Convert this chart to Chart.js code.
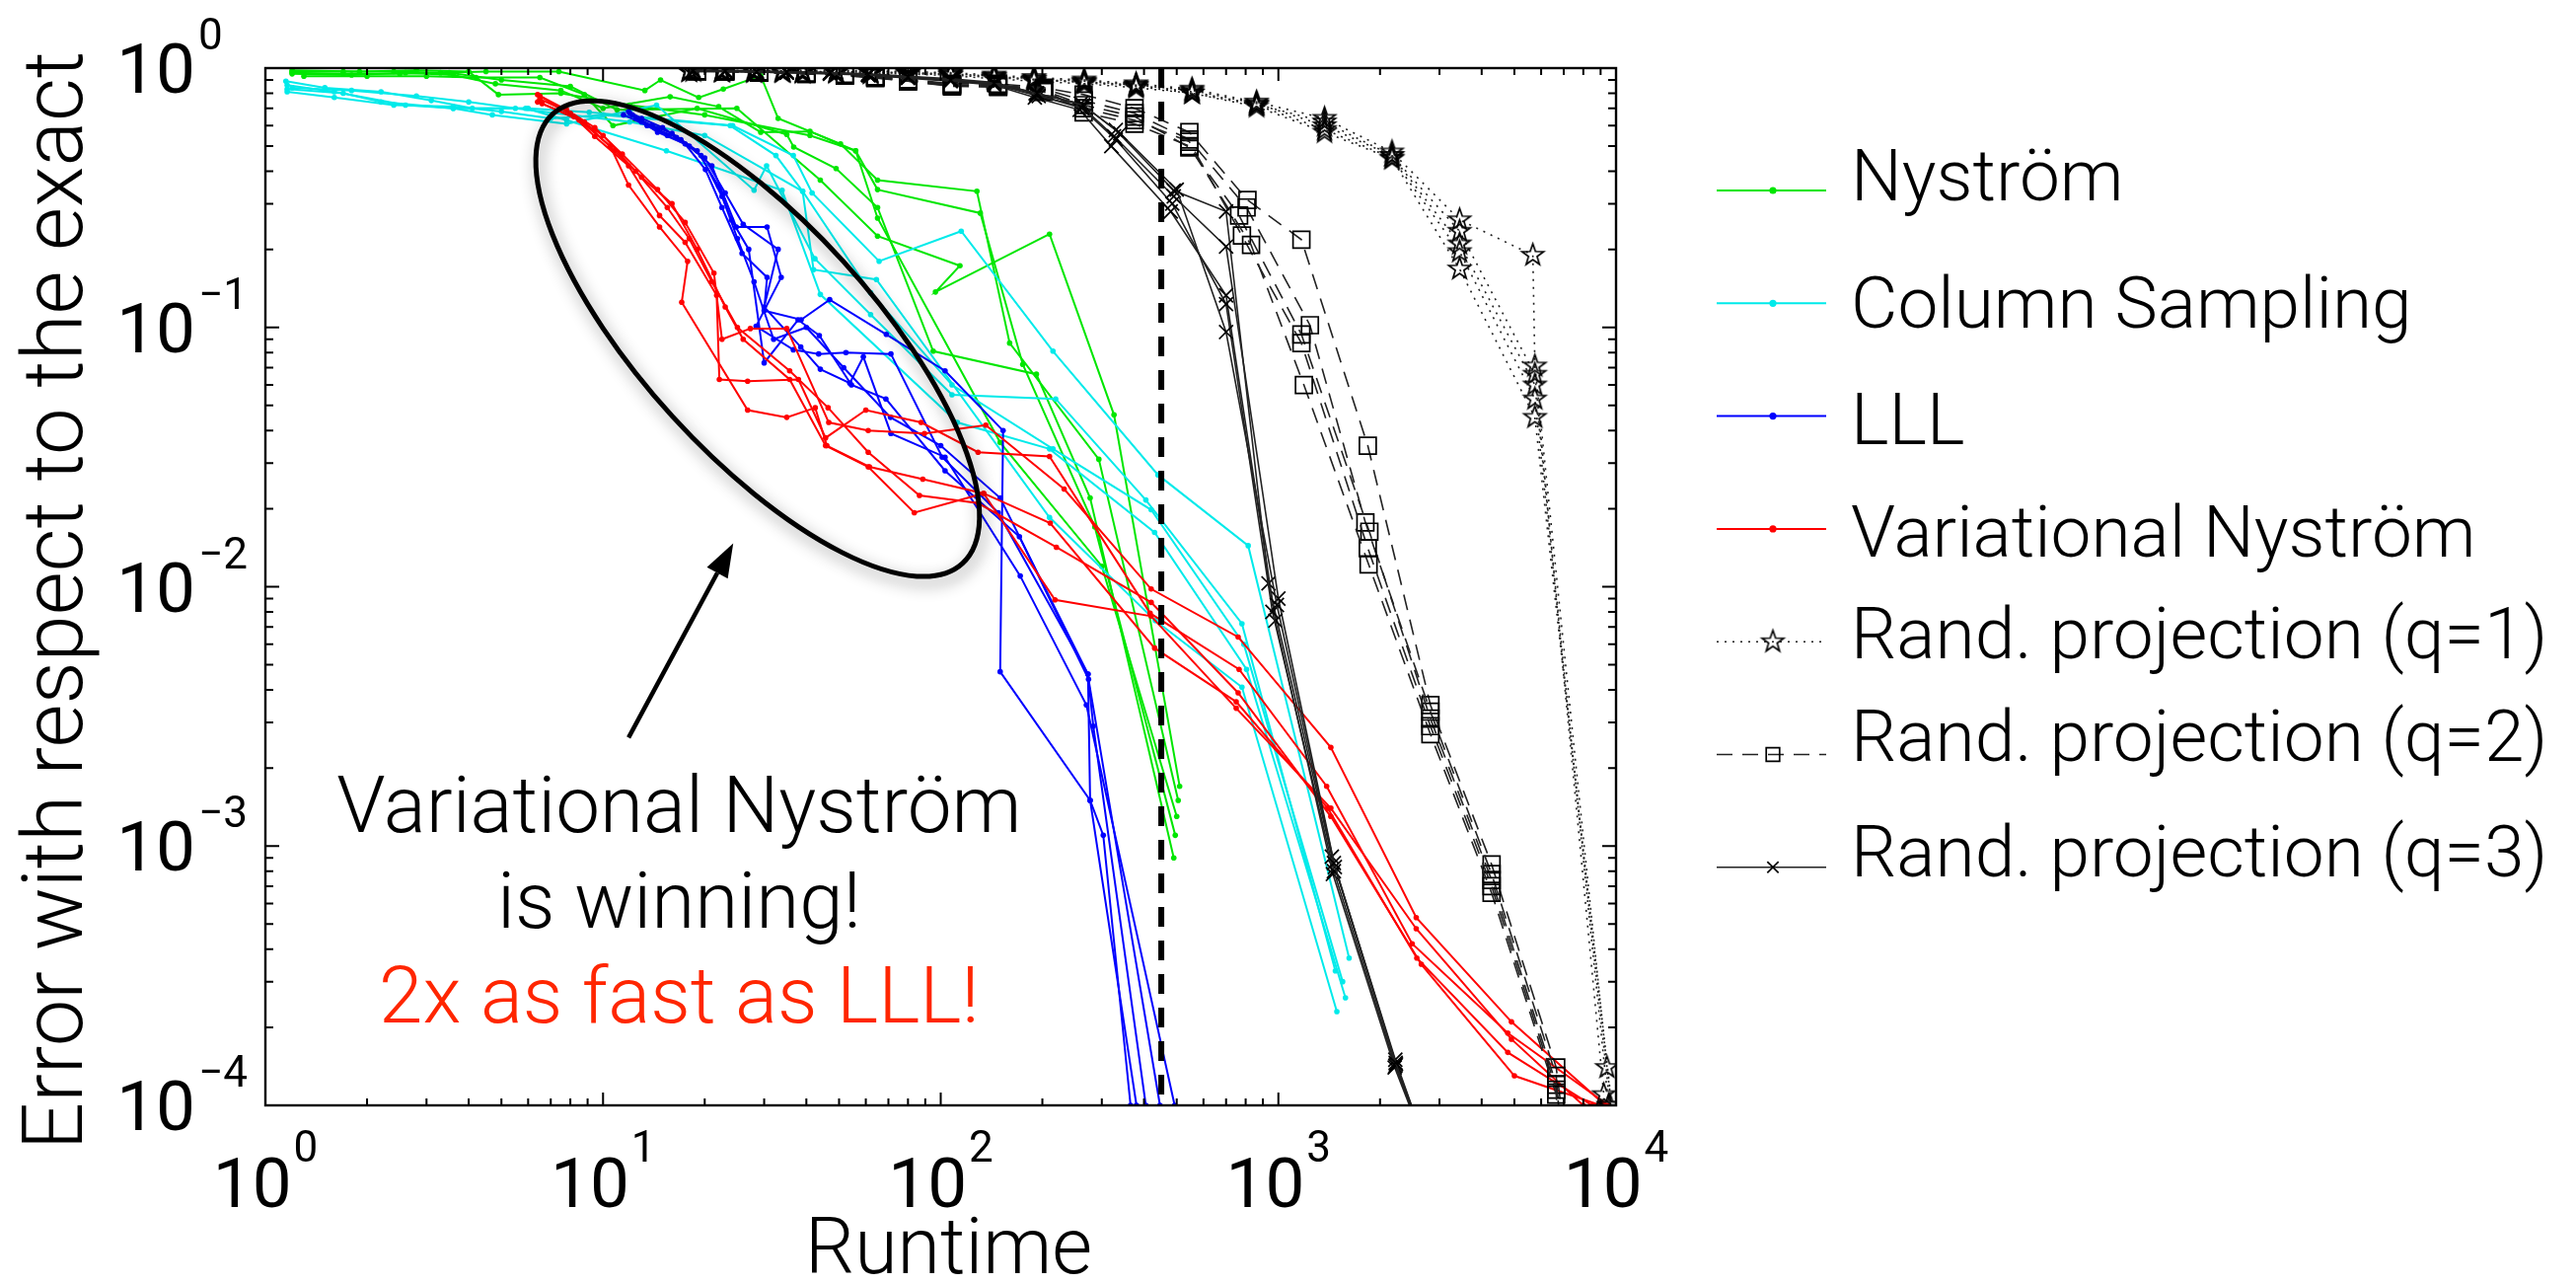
<!DOCTYPE html>
<html>
<head>
<meta charset="utf-8">
<script src="https://cdn.jsdelivr.net/npm/chart.js@4.4.0/dist/chart.umd.min.js"></script>
<style>
  html, body { margin: 0; padding: 0; background: #fff; }
</style>
</head>
<body>
<canvas id="graph" width="2611" height="1301"></canvas>
<script>
// ---- data: [runtime, error] ----
var nystromRuns = [
  [[1.2,0.97],[1.7,0.97],[2.4,0.97],[3.3,0.96],[4.5,0.97],[7.4,0.97],[13.3,0.82],[14.8,0.90],[19.2,0.77],[22.7,0.83],[29.3,0.935],[33,0.64],[50.5,0.51],[65,0.37],[128,0.335],[160,0.087],[294,0.031],[505,0.0015]],
  [[1.2,0.95],[1.8,0.94],[2.6,0.96],[3.6,0.94],[4.8,0.87],[7.5,0.82],[10,0.70],[15.8,0.775],[22,0.71],[29.3,0.566],[41,0.57],[56,0.48],[65,0.34],[131,0.276],[175,0.072],[286,0.017],[495,0.0011]],
  [[1.3,0.93],[2,0.93],[3,0.93],[4.2,0.92],[6.5,0.92],[8.8,0.79],[10.7,0.60],[19,0.70],[35,0.555],[36.7,0.496],[49,0.41],[65,0.29],[95,0.081],[192,0.066],[277,0.022],[490,0.0009]],
  [[1.2,0.96],[1.7,0.95],[2.5,0.95],[3.5,0.96],[5,0.90],[8,0.85],[11,0.69],[24.9,0.70],[44,0.37],[65,0.225],[114,0.173],[96.5,0.137],[210,0.229],[326,0.046],[510,0.0017]],
  [[1.2,0.98],[1.9,0.97],[2.8,0.98],[4,0.97],[4.9,0.79],[7.5,0.80],[12,0.72],[20,0.66],[41,0.55],[56,0.48],[65,0.264],[150,0.036],[300,0.012],[500,0.0013]]
];
var columnRuns = [
  [[1.15,0.89],[1.5,0.84],[2.2,0.81],[3.1,0.75],[4.1,0.70],[6,0.70],[9.1,0.675],[24.2,0.60],[36.6,0.46],[41.6,0.33],[65.7,0.18],[115,0.235],[215,0.081],[440,0.027],[814,0.0144],[1620,0.00037]],
  [[1.16,0.86],[1.6,0.81],[2.6,0.72],[3.6,0.70],[4.7,0.66],[7.8,0.61],[14.4,0.72],[28,0.338],[30.5,0.42],[42.4,0.184],[62,0.112],[108,0.055],[219,0.053],[405,0.0216],[780,0.0072],[1475,0.00033]],
  [[1.16,0.83],[1.7,0.80],[2.2,0.74],[3.6,0.70],[5.9,0.70],[7.8,0.63],[15.4,0.48],[33.9,0.338],[44,0.134],[112,0.043],[210,0.034],[430,0.0162],[805,0.0048],[1580,0.00026]],
  [[1.16,0.81],[1.6,0.77],[2.4,0.72],[3.6,0.71],[5,0.68],[7,0.64],[10,0.66],[23.8,0.60],[32.5,0.46],[39,0.335],[42,0.167],[64.5,0.153],[210,0.0185],[432,0.0074],[780,0.0041],[1490,0.00023]],
  [[1.2,0.84],[1.8,0.82],[2.8,0.78],[4,0.74],[5.5,0.70],[8,0.66],[12,0.62],[20,0.55],[39,0.335],[62,0.136],[108,0.06],[215,0.034],[420,0.0198],[790,0.006],[1550,0.0003]]
];
var lllRuns = [
  [[12,0.67],[13,0.62],[14.5,0.566],[17.5,0.51],[20.1,0.406],[22.5,0.29],[25.8,0.193],[30.6,0.156],[30,0.116],[38.6,0.107],[46.9,0.128],[69,0.094],[103,0.068],[153,0.04],[150,0.0047],[277,0.0015],[303,0.0011],[365,0.0001]],
  [[11.5,0.66],[13.5,0.60],[15.5,0.55],[18,0.50],[21,0.42],[24.8,0.244],[30.6,0.244],[33.7,0.156],[28.4,0.101],[36.6,0.082],[43.5,0.079],[52.4,0.08],[71.2,0.079],[101,0.0316],[148,0.0193],[273,0.0046],[283,0.0029],[405,0.0001]],
  [[12.5,0.64],[14,0.60],[16,0.56],[19,0.48],[22,0.35],[24,0.26],[27,0.20],[30,0.073],[37.8,0.107],[43.7,0.093],[54.4,0.06],[68.8,0.053],[103,0.028],[171,0.0156],[274,0.0044],[446,0.0001]],
  [[11.9,0.68],[13,0.64],[15,0.59],[17,0.53],[20,0.45],[23,0.33],[26,0.25],[33,0.20],[30,0.12],[38.5,0.084],[44,0.069],[53.8,0.061],[59,0.077],[71.2,0.039],[103,0.0316],[172,0.011],[270,0.0035],[493,0.0001]],
  [[12.2,0.66],[14.5,0.58],[16.5,0.54],[19.5,0.46],[22.5,0.32],[25,0.22],[28,0.15],[32,0.09],[40,0.10],[51.6,0.07],[71,0.045],[100,0.035],[150,0.022],[273,0.0046],[277,0.0015],[380,0.0001]]
];
var varNystromRuns = [
  [[6.4,0.79],[7.8,0.69],[9.45,0.59],[11.4,0.466],[14.5,0.34],[17.5,0.254],[21.3,0.162],[22.5,0.09],[27.3,0.099],[35,0.099],[46.6,0.043],[61,0.04],[89.5,0.039],[136,0.042],[232,0.0238],[420,0.0098],[760,0.0064],[1430,0.0024],[2560,0.00053],[4900,0.00021],[9300,0.0001]],
  [[6.5,0.76],[8,0.67],[9.45,0.545],[11.9,0.42],[14.7,0.27],[17.5,0.213],[21.7,0.133],[22.1,0.063],[26.8,0.062],[37.9,0.063],[45.6,0.0375],[60,0.048],[87.5,0.043],[129,0.033],[210,0.0318],[417,0.0079],[765,0.0048],[1390,0.0017],[2490,0.00042],[4780,0.00019],[9500,0.0001]],
  [[6.6,0.73],[8.5,0.63],[10.5,0.50],[11.9,0.354],[14.7,0.244],[17.8,0.18],[17.1,0.125],[26.8,0.048],[35,0.045],[42.5,0.049],[46,0.035],[61.5,0.029],[88.5,0.026],[134,0.0229],[211,0.0176],[430,0.0058],[750,0.0036],[1400,0.0014],[2570,0.00037],[4780,0.00016],[8500,0.0001]],
  [[6.4,0.74],[8.2,0.65],[10,0.55],[12.5,0.40],[15.5,0.29],[18,0.22],[21,0.15],[25,0.10],[35.7,0.068],[46.4,0.049],[61,0.033],[86.5,0.0225],[129,0.021],[220,0.0142],[420,0.0087],[760,0.0039],[1430,0.0013],[2650,0.00035],[5000,0.00013],[9000,0.0001]],
  [[6.5,0.78],[8.8,0.62],[10.8,0.48],[13,0.38],[16,0.30],[19,0.20],[23,0.12],[26,0.09],[35.7,0.063],[45.6,0.035],[61,0.029],[83.5,0.0193],[134,0.0229],[218,0.0089],[420,0.0077],[750,0.0034],[1430,0.0014],[2560,0.00048],[4900,0.00018],[8000,0.0001]]
];
var randProj1Runs = [
  [[18,0.98],[22.5,0.98],[28,0.98],[34,0.98],[39,0.98],[49,0.98],[62,0.975],[80,0.97],[107,0.96],[144,0.94],[189,0.92],[266,0.90],[379,0.87],[555,0.83],[862,0.74],[1370,0.64],[2170,0.475],[3440,0.26],[5670,0.19],[5750,0.071],[9400,0.00014],[9900,0.00008]],
  [[18,0.98],[22.5,0.975],[28,0.975],[34,0.97],[39,0.97],[49,0.97],[62,0.97],[80,0.96],[107,0.95],[144,0.93],[189,0.91],[266,0.89],[379,0.86],[555,0.82],[862,0.73],[1370,0.60],[2170,0.46],[3440,0.235],[5750,0.066],[9200,0.00011],[9600,0.00007]],
  [[18.5,0.975],[22.5,0.97],[28,0.97],[34,0.97],[39,0.965],[49,0.965],[62,0.96],[80,0.955],[107,0.94],[144,0.92],[189,0.90],[266,0.88],[379,0.85],[555,0.80],[862,0.72],[1370,0.58],[2170,0.45],[3440,0.196],[5750,0.053],[9600,0.0001]],
  [[18,0.97],[22.5,0.97],[28,0.965],[34,0.965],[39,0.96],[49,0.96],[62,0.955],[80,0.95],[107,0.935],[144,0.91],[189,0.89],[266,0.87],[379,0.84],[555,0.80],[862,0.71],[1370,0.566],[2170,0.447],[3440,0.168],[5750,0.045],[9800,0.00009]],
  [[18.5,0.98],[22.5,0.98],[28,0.975],[34,0.975],[39,0.97],[49,0.97],[62,0.965],[80,0.96],[107,0.95],[144,0.93],[189,0.905],[266,0.885],[379,0.86],[555,0.81],[862,0.725],[1370,0.62],[2170,0.46],[3440,0.21],[5750,0.06],[9500,0.0001]]
];
var randProj2Runs = [
  [[19,0.98],[23,0.98],[29,0.97],[40,0.96],[52,0.95],[64,0.93],[80,0.905],[108,0.87],[148,0.87],[202,0.84],[265,0.79],[375,0.70],[545,0.566],[810,0.31],[1170,0.218],[1840,0.035],[2820,0.0035],[4280,0.00085],[6650,0.00014],[7100,0.00007]],
  [[19,0.975],[23,0.975],[29,0.97],[40,0.955],[52,0.94],[64,0.92],[80,0.90],[108,0.86],[148,0.86],[202,0.83],[265,0.75],[375,0.67],[545,0.53],[805,0.29],[1240,0.102],[1810,0.0177],[2820,0.0033],[4280,0.00078],[6650,0.00013],[6900,0.00007]],
  [[19,0.97],[23,0.97],[29,0.965],[40,0.95],[52,0.94],[64,0.92],[80,0.89],[108,0.855],[148,0.85],[202,0.82],[265,0.72],[375,0.65],[545,0.494],[765,0.27],[1170,0.094],[1860,0.0163],[2820,0.0031],[4280,0.00074],[6650,0.00012],[7000,0.00007]],
  [[19,0.975],[23,0.97],[29,0.96],[40,0.95],[52,0.935],[64,0.915],[80,0.89],[108,0.85],[148,0.845],[202,0.81],[265,0.70],[375,0.63],[545,0.52],[780,0.226],[1170,0.087],[1840,0.0141],[2820,0.0029],[4280,0.0007],[6650,0.000115],[7200,0.00007]],
  [[19,0.98],[23,0.975],[29,0.965],[40,0.955],[52,0.945],[64,0.925],[80,0.90],[108,0.86],[148,0.855],[202,0.825],[265,0.675],[375,0.61],[545,0.50],[830,0.208],[1190,0.06],[1850,0.0122],[2820,0.0027],[4280,0.00066],[6650,0.00011],[6800,0.00007]]
];
var randProj3Runs = [
  [[18.5,0.98],[23,0.98],[28.5,0.975],[35,0.97],[47,0.96],[61,0.95],[80,0.93],[107,0.91],[144,0.88],[191,0.80],[260,0.73],[330,0.577],[490,0.337],[700,0.28],[935,0.0103],[1440,0.00091],[2220,0.00015],[2850,0.00006]],
  [[18.5,0.975],[23,0.975],[28.5,0.97],[35,0.965],[47,0.955],[61,0.945],[80,0.92],[107,0.90],[144,0.87],[195,0.78],[262,0.71],[326,0.546],[490,0.32],[700,0.205],[1000,0.009],[1470,0.00083],[2230,0.000144],[2850,0.00006]],
  [[18.5,0.97],[23,0.97],[28.5,0.965],[35,0.96],[47,0.95],[61,0.94],[80,0.915],[107,0.89],[144,0.86],[190,0.77],[258,0.69],[320,0.50],[480,0.28],[700,0.133],[980,0.0074],[1450,0.00078],[2210,0.00014],[2850,0.00006]],
  [[18.5,0.975],[23,0.97],[28.5,0.965],[35,0.96],[47,0.955],[61,0.94],[80,0.92],[107,0.895],[144,0.865],[192,0.79],[262,0.70],[330,0.53],[485,0.30],[700,0.123],[960,0.008],[1460,0.0008],[2220,0.000142],[2850,0.00006]],
  [[18.5,0.98],[23,0.975],[28.5,0.97],[35,0.965],[47,0.96],[61,0.945],[80,0.925],[107,0.90],[144,0.875],[193,0.80],[264,0.72],[340,0.56],[500,0.34],[700,0.096],[990,0.0085],[1460,0.00086],[2225,0.000146],[2850,0.00006]]
];
var cutoffRuntime = 450;

var legendLabels = ["Nyström", "Column Sampling", "LLL", "Variational Nyström",
  "Rand. projection (q=1)", "Rand. projection (q=2)", "Rand. projection (q=3)"];
var xTickValues = [1, 10, 100, 1000, 10000];
var xTickExps = ["0", "1", "2", "3", "4"];
var yTickValues = [1, 0.1, 0.01, 0.001, 0.0001];
var yTickExps = ["0", "\u22121", "\u22122", "\u22123", "\u22124"];
var xTitle = "Runtime";
var yTitle = "Error with respect to the exact";
var noteLines = ["Variational Nyström", "is winning!", "2x as fast as LLL!"];
// annotation anchors in data units
var noteX = 16.8;
var noteY = [0.00113, 0.000484, 0.000209];
var arrowFrom = [11.9, 0.00262];
var arrowTo = [24.3, 0.0147];
var ellipseEnds = [[7.1, 0.666], [116, 0.0123]];
var ellipseMinorDecades = 0.445;

var FONT = '"Helvetica Neue", Roboto, "Liberation Sans", sans-serif';

// hollow pentagram marker
function makeStar(r, lw) {
  var c = document.createElement("canvas");
  var s = Math.ceil(2 * r + 2 * lw + 2);
  c.width = s; c.height = s;
  var g = c.getContext("2d");
  g.beginPath();
  for (var i = 0; i < 10; i++) {
    var rr = i % 2 ? r * 0.4 : r;
    var a = -Math.PI / 2 + i * Math.PI / 5;
    var px = s / 2 + rr * Math.cos(a), py = s / 2 + rr * Math.sin(a);
    if (i) g.lineTo(px, py); else g.moveTo(px, py);
  }
  g.closePath();
  g.lineWidth = lw;
  g.strokeStyle = "#000";
  g.stroke();
  return c;
}
var starImg = makeStar(11.5, 1.7);

var seriesStyles = [
  { borderColor: "#00e600", borderWidth: 2, pointStyle: "circle", pointRadius: 2.8, pointBackgroundColor: "#00e600", pointBorderColor: "#00e600", pointBorderWidth: 0, borderDash: [] },
  { borderColor: "#00eaea", borderWidth: 2, pointStyle: "circle", pointRadius: 2.8, pointBackgroundColor: "#00eaea", pointBorderColor: "#00eaea", pointBorderWidth: 0, borderDash: [] },
  { borderColor: "#0000ff", borderWidth: 2, pointStyle: "circle", pointRadius: 2.8, pointBackgroundColor: "#0000ff", pointBorderColor: "#0000ff", pointBorderWidth: 0, borderDash: [] },
  { borderColor: "#ff0000", borderWidth: 2, pointStyle: "circle", pointRadius: 2.8, pointBackgroundColor: "#ff0000", pointBorderColor: "#ff0000", pointBorderWidth: 0, borderDash: [] },
  { borderColor: "#222", borderWidth: 1.6, pointStyle: starImg, pointRadius: 11.5, pointBackgroundColor: "rgba(0,0,0,0)", pointBorderColor: "#000", pointBorderWidth: 1.7, borderDash: [2, 6] },
  { borderColor: "#222", borderWidth: 1.6, pointStyle: "rect", pointRadius: 12, pointBackgroundColor: "rgba(0,0,0,0)", pointBorderColor: "#000", pointBorderWidth: 1.7, borderDash: [16, 10] },
  { borderColor: "#222", borderWidth: 1.6, pointStyle: "crossRot", pointRadius: 10, pointBackgroundColor: "rgba(0,0,0,0)", pointBorderColor: "#000", pointBorderWidth: 1.7, borderDash: [] }
];
var allRuns = [nystromRuns, columnRuns, lllRuns, varNystromRuns, randProj1Runs, randProj2Runs, randProj3Runs];

var datasets = [];
allRuns.forEach(function (runs, si) {
  runs.forEach(function (run) {
    var st = seriesStyles[si];
    datasets.push({
      data: run.map(function (p) { return { x: p[0], y: p[1] }; }),
      showLine: true,
      fill: false,
      borderColor: st.borderColor,
      borderWidth: st.borderWidth,
      borderDash: st.borderDash,
      pointStyle: st.pointStyle,
      pointRadius: st.pointRadius,
      pointBackgroundColor: st.pointBackgroundColor,
      pointBorderColor: st.pointBorderColor,
      pointBorderWidth: st.pointBorderWidth,
      order: -datasets.length
    });
  });
});
// vertical dashed cutoff
datasets.push({
  data: [{ x: cutoffRuntime, y: 1 }, { x: cutoffRuntime, y: 0.0001 }],
  showLine: true, fill: false,
  borderColor: "#000", borderWidth: 6, borderDash: [20, 14],
  pointRadius: 0, order: -1000
});

// per-row vertical offset of the legend text baseline from its sample line
var LEGEND_TEXT_DY = [10, 25, 28, 28, 17, 6, 9];

function decorations() {
  return {
    id: "decorations",
    afterDraw: function (chart) {
      var ctx = chart.ctx, a = chart.chartArea;
      var xs = chart.scales.x, ys = chart.scales.y;
      ctx.save();

      // ellipse with shadow
      var p1 = [xs.getPixelForValue(ellipseEnds[0][0]), ys.getPixelForValue(ellipseEnds[0][1])];
      var p2 = [xs.getPixelForValue(ellipseEnds[1][0]), ys.getPixelForValue(ellipseEnds[1][1])];
      var dec = ys.getPixelForValue(0.1) - ys.getPixelForValue(1);
      var cx = (p1[0] + p2[0]) / 2, cy = (p1[1] + p2[1]) / 2;
      var semiA = Math.hypot(p2[0] - p1[0], p2[1] - p1[1]) / 2;
      var ang = Math.atan2(p2[1] - p1[1], p2[0] - p1[0]);
      ctx.save();
      ctx.shadowColor = "rgba(0,0,0,0.45)";
      ctx.shadowBlur = 16;
      ctx.shadowOffsetX = 3;
      ctx.shadowOffsetY = 6;
      ctx.beginPath();
      ctx.ellipse(cx, cy, semiA, ellipseMinorDecades * dec, ang, 0, Math.PI * 2);
      ctx.lineWidth = 5;
      ctx.strokeStyle = "#000";
      ctx.stroke();
      ctx.restore();

      // arrow
      var t0 = [xs.getPixelForValue(arrowFrom[0]), ys.getPixelForValue(arrowFrom[1])];
      var t1 = [xs.getPixelForValue(arrowTo[0]), ys.getPixelForValue(arrowTo[1])];
      var aa = Math.atan2(t1[1] - t0[1], t1[0] - t0[0]);
      var hl = 34, hw = 12;
      var bx = t1[0] - hl * Math.cos(aa), by = t1[1] - hl * Math.sin(aa);
      ctx.beginPath();
      ctx.moveTo(t0[0], t0[1]);
      ctx.lineTo(bx, by);
      ctx.lineWidth = 4.5;
      ctx.strokeStyle = "#000";
      ctx.stroke();
      ctx.beginPath();
      ctx.moveTo(t1[0], t1[1]);
      ctx.lineTo(bx + hw * Math.sin(aa), by - hw * Math.cos(aa));
      ctx.lineTo(bx - hw * Math.sin(aa), by + hw * Math.cos(aa));
      ctx.closePath();
      ctx.fillStyle = "#000";
      ctx.fill();

      // note text
      ctx.font = "300 80px " + FONT;
      ctx.textAlign = "center";
      ctx.textBaseline = "alphabetic";
      var nx = xs.getPixelForValue(noteX);
      noteLines.forEach(function (s, i) {
        ctx.fillStyle = i === 2 ? "#ff2600" : "#000";
        ctx.fillText(s, nx, ys.getPixelForValue(noteY[i]));
      });

      // box
      ctx.lineWidth = 2.4;
      ctx.strokeStyle = "#000";
      ctx.setLineDash([]);
      ctx.strokeRect(a.left, a.top, a.right - a.left, a.bottom - a.top);

      // inward ticks on all four sides
      ctx.lineWidth = 2;
      ctx.beginPath();
      for (var d = 1; d <= 10000; d *= 10) {
        for (var m = 1; m < 10; m++) {
          var v = d * m;
          if (v > 10000) break;
          var px = xs.getPixelForValue(v);
          var len = m === 1 ? 13 : 7;
          ctx.moveTo(px, a.bottom); ctx.lineTo(px, a.bottom - len);
          ctx.moveTo(px, a.top); ctx.lineTo(px, a.top + len);
        }
      }
      for (var e = 0.0001; e <= 1.0001; e *= 10) {
        for (var k = 1; k < 10; k++) {
          var w = e * k;
          if (w > 1.0001) break;
          var py = ys.getPixelForValue(w);
          var ln = k === 1 ? 14 : 8;
          ctx.moveTo(a.left, py); ctx.lineTo(a.left + ln, py);
          ctx.moveTo(a.right, py); ctx.lineTo(a.right - ln, py);
        }
      }
      ctx.stroke();

      // tick labels with superscript exponents
      var baseFont = "400 71px " + FONT, expFont = "400 44px " + FONT;
      ctx.fillStyle = "#000";
      xTickValues.forEach(function (v, i) {
        ctx.font = baseFont;
        var w1 = ctx.measureText("10").width;
        ctx.font = expFont;
        var w2 = ctx.measureText(xTickExps[i]).width;
        var left = xs.getPixelForValue(v) - (w1 + 2 + w2) / 2;
        ctx.textAlign = "left";
        ctx.font = baseFont;
        ctx.fillText("10", left, a.bottom + 103);
        ctx.font = expFont;
        ctx.fillText(xTickExps[i], left + w1 + 2, a.bottom + 57);
      });
      yTickValues.forEach(function (v, i) {
        var py = ys.getPixelForValue(v);
        ctx.font = baseFont;
        ctx.textAlign = "right";
        ctx.fillText("10", a.left - 71, py + 25);
        ctx.font = expFont;
        ctx.textAlign = "left";
        ctx.fillText(yTickExps[i], a.left - 68, py - 19);
      });

      // axis titles
      ctx.font = "300 79px " + FONT;
      ctx.textAlign = "center";
      ctx.fillText(xTitle, (a.left + a.right) / 2 + 8, a.bottom + 170);
      ctx.save();
      ctx.translate(a.left - 186, (a.top + a.bottom) / 2 + 14);
      ctx.rotate(-Math.PI / 2);
      ctx.font = "300 85px " + FONT;
      ctx.fillText(yTitle, 0, 0);
      ctx.restore();

      // legend
      var lx0 = a.right + 102, lx1 = a.right + 213, lm = a.right + 159, lt = a.right + 238;
      legendLabels.forEach(function (label, i) {
        var st = seriesStyles[i];
        var ry = a.top + 124 + i * 114.3;
        ctx.setLineDash(st.borderDash);
        ctx.lineWidth = st.borderWidth;
        ctx.strokeStyle = st.borderColor;
        ctx.beginPath();
        ctx.moveTo(lx0, ry); ctx.lineTo(lx1, ry);
        ctx.stroke();
        ctx.setLineDash([]);
        ctx.fillStyle = st.pointBackgroundColor;
        ctx.strokeStyle = st.pointBorderColor;
        ctx.lineWidth = st.pointBorderWidth;
        Chart.helpers.drawPoint(ctx, { pointStyle: st.pointStyle, radius: i < 4 ? 3.6 : st.pointRadius * 0.8, rotation: 0, borderWidth: st.pointBorderWidth }, lm, ry);
        ctx.fillStyle = "#000";
        ctx.font = "300 73px " + FONT;
        ctx.textAlign = "left";
        ctx.fillText(label, lt, ry + LEGEND_TEXT_DY[i]);
      });
      ctx.restore();
    }
  };
}

var chart = new Chart(document.getElementById("graph").getContext("2d"), {
  type: "scatter",
  data: { datasets: datasets },
  options: {
    responsive: false,
    animation: false,
    events: [],
    layout: { padding: { left: 269, top: 69, right: 973, bottom: 181 } },
    plugins: { legend: { display: false }, tooltip: { enabled: false } },
    scales: {
      x: { type: "logarithmic", min: 1, max: 10000, display: false },
      y: { type: "logarithmic", min: 0.0001, max: 1, display: false }
    }
  },
  plugins: [decorations()]
});
</script>
</body>
</html>
